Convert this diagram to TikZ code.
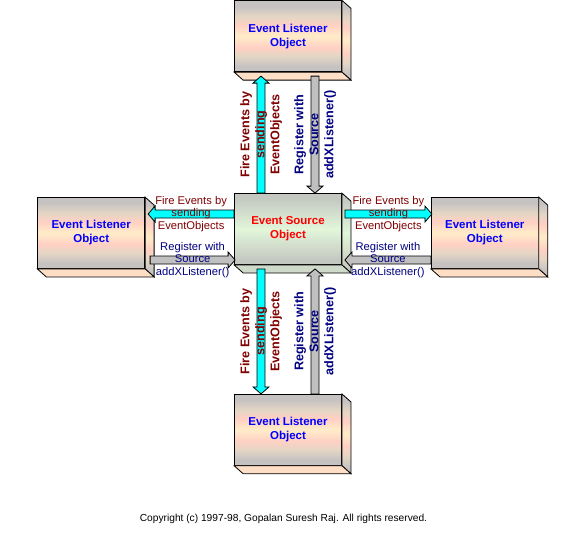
\documentclass[tikz,border=0pt]{standalone}
\usepackage{fontspec}
\setmainfont{Liberation Sans}
\usetikzlibrary{positioning,calc}

\definecolor{evblue}{RGB}{0,0,255}
\definecolor{evred}{RGB}{255,0,0}
\definecolor{firered}{RGB}{128,0,0}
\definecolor{regnavy}{RGB}{0,0,128}
\definecolor{evcyan}{RGB}{0,255,255}
\definecolor{evgray}{RGB}{192,192,192}
\definecolor{lsgray}{RGB}{198,194,194}
\definecolor{lstan}{RGB}{228,214,196}
\definecolor{lspink}{RGB}{255,208,196}
\definecolor{lscream}{RGB}{255,236,200}
\definecolor{srcgray}{RGB}{196,200,192}
\definecolor{srcgreen}{RGB}{226,246,218}

\pgfdeclareverticalshading{listenershade}{100bp}{color(0bp)=(lsgray); color(29bp)=(lsgray);
  color(36bp)=(lstan); color(42bp)=(lspink); color(50bp)=(lscream); color(58bp)=(lspink);
  color(64bp)=(lstan); color(71bp)=(lsgray); color(100bp)=(lsgray)}
\pgfdeclareverticalshading{sourceshade}{100bp}{color(0bp)=(srcgray); color(28bp)=(srcgray);
  color(50bp)=(srcgreen); color(72bp)=(srcgray); color(100bp)=(srcgray)}

\tikzset{
  blockarrow/.style={to path={
    ($(\tikztostart)!4pt!90:(\tikztotarget)$)
    -- ($($(\tikztotarget)!7pt!(\tikztostart)$)!4pt!90:(\tikztotarget)$)
    -- ($($(\tikztotarget)!7pt!(\tikztostart)$)!8pt!90:(\tikztotarget)$)
    -- (\tikztotarget)
    -- ($($(\tikztotarget)!7pt!(\tikztostart)$)!8pt!-90:(\tikztotarget)$)
    -- ($($(\tikztotarget)!7pt!(\tikztostart)$)!4pt!-90:(\tikztotarget)$)
    -- ($(\tikztostart)!4pt!-90:(\tikztotarget)$) -- cycle}},
  firearrow/.style={blockarrow, draw=black, fill=evcyan, line width=0.8pt},
  regarrow/.style={blockarrow, draw=black, fill=evgray, line width=0.8pt}
}

% side and bottom faces of a box
\newcommand\extrude[3]{%
  \draw[line width=0.8pt, shading=#2] (#1.north east) -- ++(9,8)
    -- ($(#1.south east)+(9,8)$) -- (#1.south east) -- cycle;
  \draw[line width=0.8pt, fill=#3] (#1.south west) -- (#1.south east)
    -- ($(#1.south east)+(9,8)$) -- ($(#1.south west)+(9,8)$) -- cycle;
}

\begin{document}
\begin{tikzpicture}[x=1pt,y=-1pt,
	listener/.style={draw, line width=0.8pt, shading=listenershade, inner sep=0pt,
		minimum width=107pt, minimum height=71pt, align=center, text=evblue,
		font=\fontsize{11.5}{14}\selectfont\bfseries},
	source/.style={listener, shading=sourceshade, text=evred},
	firetext/.style={align=center, text=firered, inner sep=0pt},
	regtext/.style={firetext, text=regnavy},
	vtext/.style={rotate=90, font=\fontsize{12.6}{15}\selectfont\bfseries},
	htext/.style={font=\fontsize{11.2}{12.5}\selectfont}]
\useasboundingbox[fill=white] (0,0) rectangle (576,539);

% boxes
\node[source] (src) at (288,229) {Event Source\\Object};
\node[listener, above=121pt of src] (top) {Event Listener\\Object};
\node[listener, below=129pt of src] (bot) {Event Listener\\Object};
\node[listener, left=89pt of src, yshift=-4pt] (lft) {Event Listener\\Object};
\node[listener, right=89pt of src, yshift=-4pt] (rgt) {Event Listener\\Object};

\extrude{src}{sourceshade}{srcgray!60!srcgreen}
\foreach \n in {top,bot,lft,rgt}
	\extrude{\n}{listenershade}{lspink!50!lscream};

% arrow ends
\coordinate (tf0) at ($(src.north)+(-27,0)$);
\coordinate (tf1) at ($(tf0 |- top.south)+(0,4)$);
\coordinate (tr0) at ($(src.north)+(27,0)$);
\coordinate (tr1) at ($(tr0 |- top.south)+(0,4)$);
\coordinate (bf0) at ($(src.south)+(-27,4)$);
\coordinate (bf1) at (bf0 |- bot.north);
\coordinate (br0) at ($(src.south)+(27,4)$);
\coordinate (br1) at (br0 |- bot.north);
\coordinate (lf0) at ($(src.west)+(0,-15)$);
\coordinate (lf1) at ($(lf0 -| lft.east)+(3,0)$);
\coordinate (lr0) at ($(src.west)+(1,31)$);
\coordinate (lr1) at ($(lr0 -| lft.east)+(5,0)$);
\coordinate (rf0) at ($(src.east)+(3,-15)$);
\coordinate (rf1) at ($(rf0 -| rgt.west)+(1,0)$);
\coordinate (rr0) at ($(src.east)+(3,31)$);
\coordinate (rr1) at (rr0 -| rgt.west);

% arrows
\draw[firearrow] (tf0) to (tf1);
\draw[regarrow] (tr1) to (tr0);
\draw[firearrow] (bf0) to (bf1);
\draw[regarrow] (br1) to (br0);
\draw[firearrow] (lf0) to (lf1);
\draw[regarrow] (lr1) to (lr0);
\draw[firearrow] (rf0) to (rf1);
\draw[regarrow] (rr1) to (rr0);

% labels
\node[firetext, vtext] (tfl) at ($(tf0)!0.5!(tf1)$) {Fire Events by\\sending\\EventObjects};
\node[regtext, vtext] (trl) at ($(tr0)!0.5!(tr1)$) {Register with\\Source\\addXListener()};
\node[firetext, vtext] (bfl) at ($(bf0)!0.5!(bf1)$) {Fire Events by\\sending\\EventObjects};
\node[regtext, vtext] (brl) at ($(br0)!0.5!(br1)$) {Register with\\Source\\addXListener()};
\node[firetext, htext] (lfl) at ($(lf0)!0.5!(lf1)$) {Fire Events by\\sending\\EventObjects};
\node[regtext, htext] (lrl) at ($(lr0)!0.5!(lr1)$) {Register with\\Source\\addXListener()};
\node[firetext, htext] (rfl) at ($(rf0)!0.5!(rf1)$) {Fire Events by\\sending\\EventObjects};
\node[regtext, htext] (rrl) at ($(rr0)!0.5!(rr1)$) {Register with\\Source\\addXListener()};

\node[font=\fontsize{10.2}{12}\selectfont] (copy) at (283.5,519)
	{Copyright (c) 1997-98, Gopalan Suresh Raj. All rights reserved.};
\end{tikzpicture}
\end{document}
